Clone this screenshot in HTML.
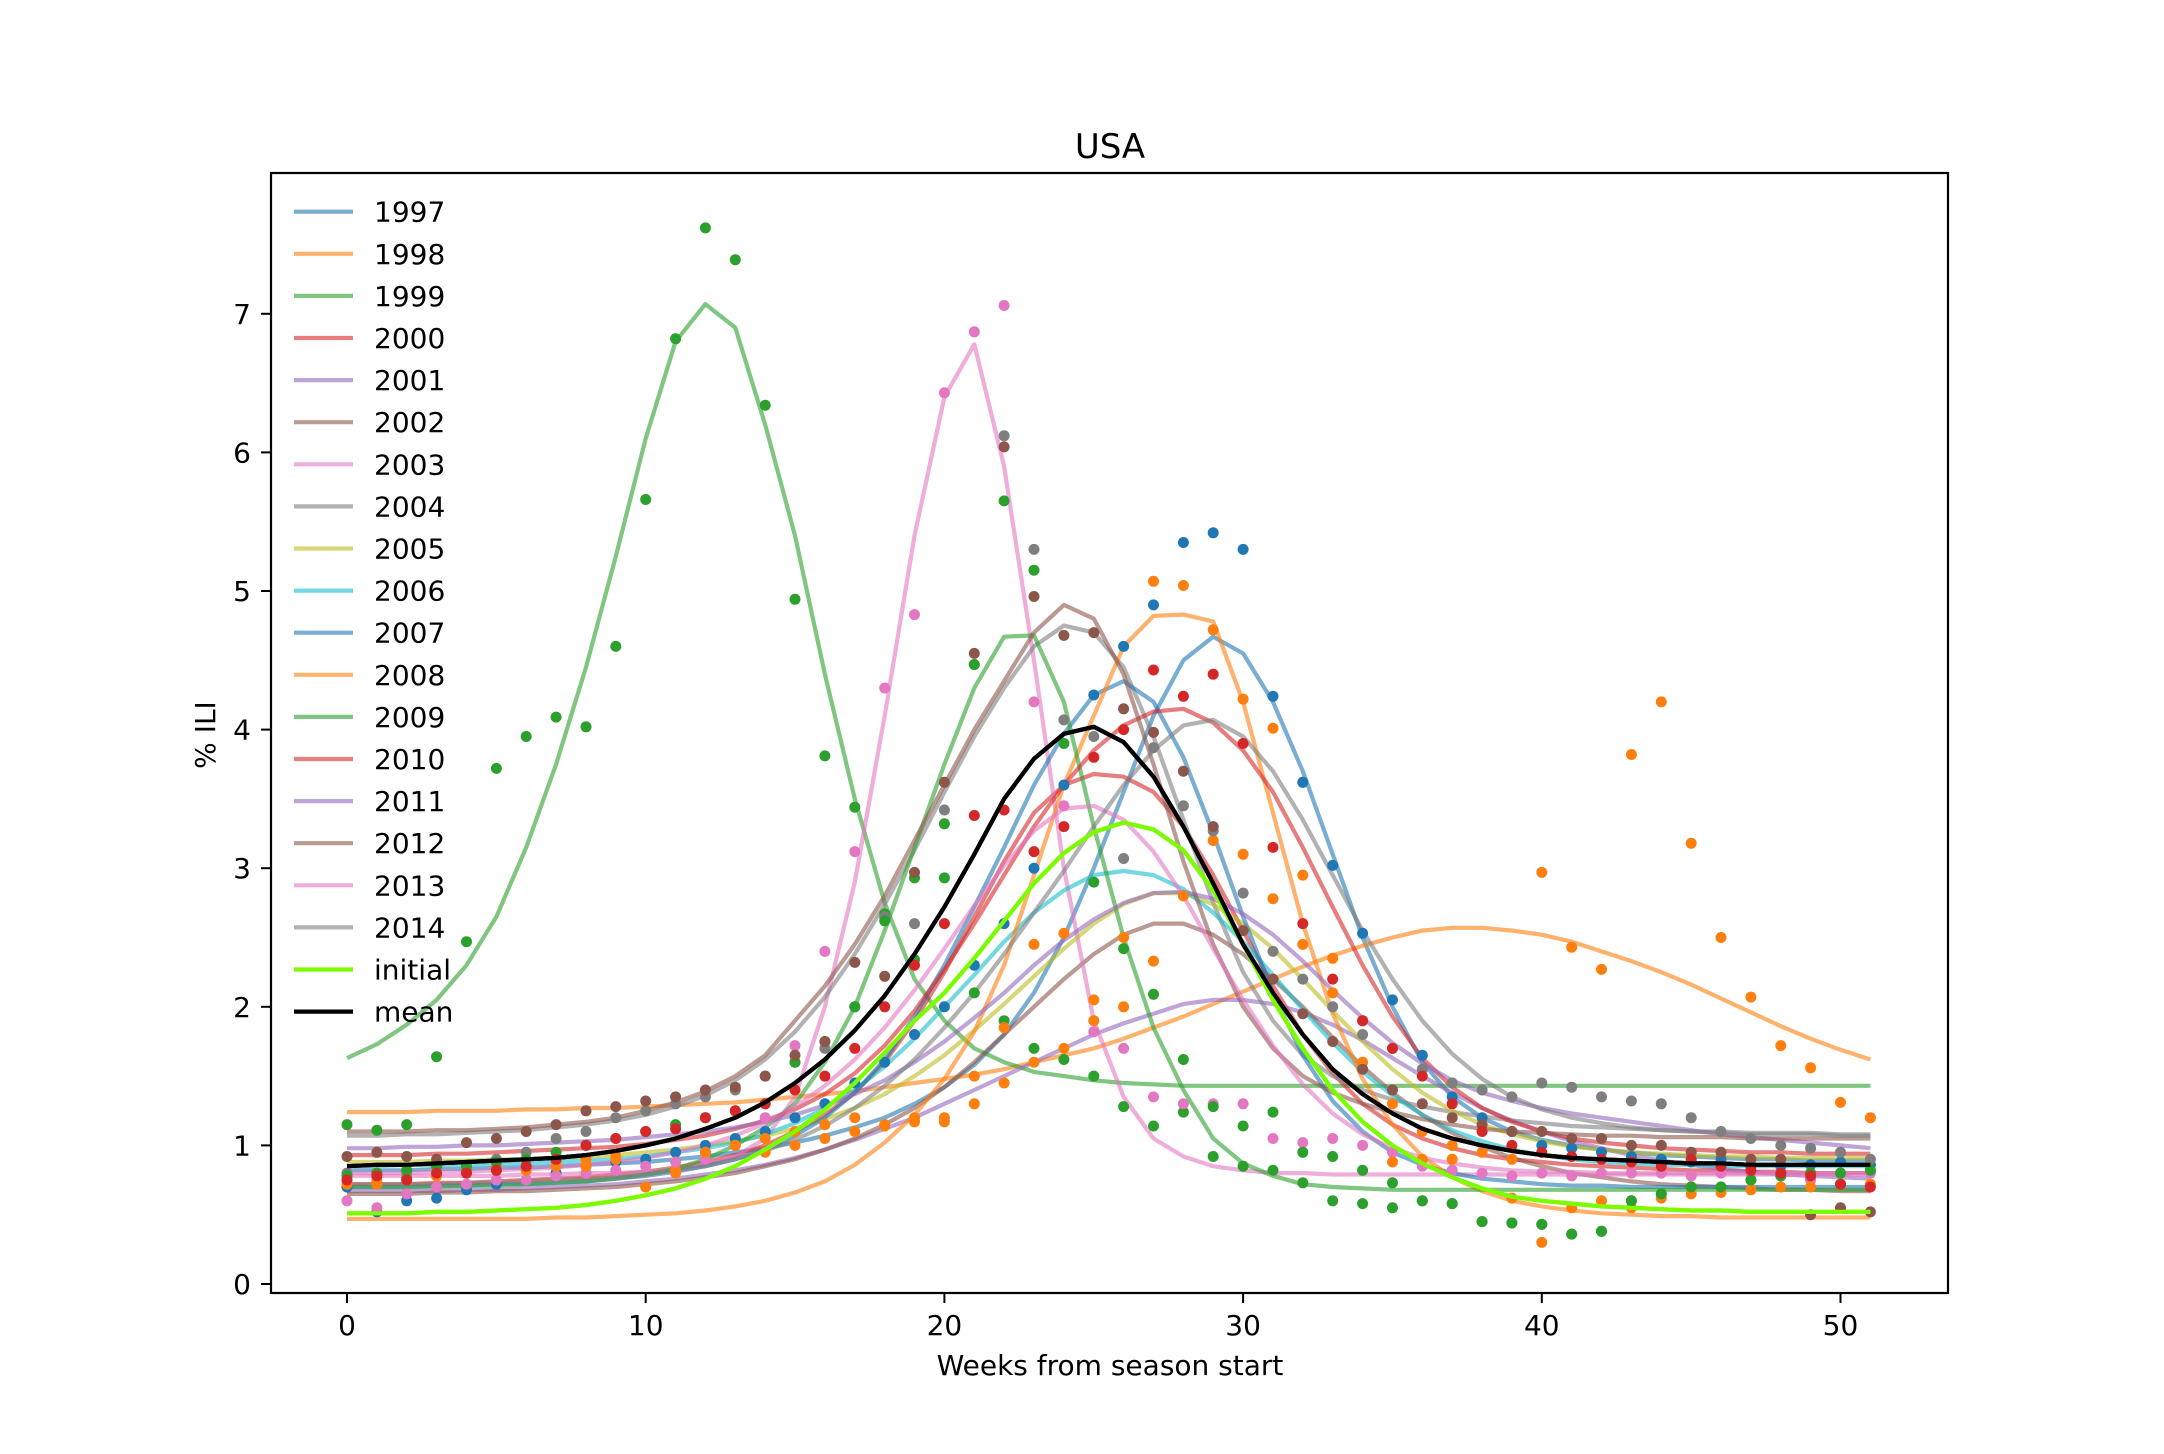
<!DOCTYPE html>
<html><head><meta charset="utf-8">
<style>
html,body{margin:0;padding:0;background:#fff;}
svg{display:block;}
text{font-family:"DejaVu Sans","Liberation Sans",sans-serif;fill:#000;}
</style></head>
<body>
<svg id="chart" width="2164" height="1454" viewBox="0 0 2164 1454" xmlns="http://www.w3.org/2000/svg">
<rect width="2164" height="1454" fill="#fff"/>
<text x="1110" y="158" font-size="34" text-anchor="middle">USA</text>
<text x="1110" y="1375" font-size="28" text-anchor="middle">Weeks from season start</text>
<text x="0" y="0" font-size="28" text-anchor="middle" transform="translate(215,735) rotate(-90)">% ILI</text>
<g id="plot"></g>
<g id="axes"></g>
<g id="legend"></g>
</svg>
<script>
const weeks = Array.from({length:52},(_,i)=>i);
const xTicks = [0,10,20,30,40,50];
const yTicks = [0,1,2,3,4,5,6,7];
const seriesNames = ["1997","1998","1999","2000","2001","2002","2003","2004","2005","2006","2007","2008","2009","2010","2011","2012","2013","2014","initial","mean"];
const seriesColors = ["#1f77b4","#ff7f0e","#2ca02c","#d62728","#9467bd","#8c564b","#e377c2","#7f7f7f","#bcbd22","#17becf","#1f77b4","#ff7f0e","#2ca02c","#d62728","#9467bd","#8c564b","#e377c2","#7f7f7f","#7cfc00","#000000"];

const s1997 = [0.82,0.82,0.82,0.83,0.83,0.84,0.84,0.85,0.86,0.87,0.88,0.9,0.92,0.95,0.98,1.02,1.07,1.13,1.2,1.3,1.42,1.58,1.8,2.1,2.5,3.0,3.55,4.1,4.5,4.67,4.55,4.2,3.7,3.1,2.5,2.0,1.6,1.35,1.2,1.1,1.04,1.0,0.97,0.95,0.93,0.92,0.91,0.9,0.9,0.89,0.89,0.89];
const s1998 = [1.24,1.24,1.24,1.25,1.25,1.25,1.26,1.26,1.27,1.27,1.28,1.29,1.3,1.31,1.33,1.35,1.37,1.39,1.42,1.45,1.48,1.51,1.55,1.6,1.65,1.7,1.77,1.85,1.93,2.02,2.11,2.2,2.29,2.37,2.44,2.5,2.55,2.57,2.57,2.55,2.52,2.47,2.4,2.33,2.25,2.16,2.06,1.96,1.86,1.77,1.69,1.62];
const s1999 = [1.63,1.73,1.87,2.05,2.3,2.65,3.15,3.75,4.45,5.25,6.1,6.8,7.07,6.9,6.2,5.4,4.4,3.5,2.75,2.2,1.9,1.7,1.6,1.53,1.5,1.47,1.45,1.44,1.43,1.43,1.43,1.43,1.43,1.43,1.43,1.43,1.43,1.43,1.43,1.43,1.43,1.43,1.43,1.43,1.43,1.43,1.43,1.43,1.43,1.43,1.43,1.43];
const s2000 = [0.72,0.72,0.72,0.73,0.73,0.74,0.75,0.76,0.77,0.79,0.81,0.84,0.88,0.93,1.0,1.1,1.22,1.38,1.6,1.9,2.25,2.65,3.05,3.4,3.6,3.68,3.66,3.55,3.3,2.95,2.55,2.15,1.8,1.52,1.3,1.15,1.05,0.98,0.93,0.9,0.88,0.86,0.85,0.84,0.83,0.82,0.82,0.81,0.81,0.8,0.8,0.8];
const s2001 = [0.67,0.67,0.67,0.67,0.68,0.68,0.69,0.7,0.71,0.72,0.74,0.76,0.79,0.82,0.86,0.91,0.97,1.04,1.12,1.2,1.3,1.4,1.5,1.6,1.7,1.8,1.88,1.95,2.02,2.05,2.05,2.02,1.96,1.87,1.76,1.63,1.5,1.38,1.27,1.18,1.1,1.03,0.98,0.93,0.89,0.86,0.83,0.81,0.79,0.78,0.77,0.76];
const s2002 = [0.65,0.65,0.65,0.66,0.66,0.67,0.67,0.68,0.69,0.7,0.72,0.74,0.77,0.8,0.85,0.9,0.97,1.05,1.15,1.27,1.42,1.6,1.8,2.0,2.2,2.38,2.52,2.6,2.6,2.52,2.38,2.2,2.0,1.78,1.57,1.38,1.22,1.09,0.99,0.91,0.85,0.8,0.77,0.74,0.72,0.71,0.7,0.69,0.68,0.68,0.67,0.67];
const s2003 = [0.78,0.78,0.78,0.78,0.78,0.78,0.79,0.79,0.8,0.8,0.81,0.83,0.86,0.92,1.05,1.35,2.0,2.9,4.1,5.4,6.4,6.78,5.9,4.5,3.0,1.9,1.35,1.05,0.92,0.85,0.82,0.8,0.8,0.79,0.79,0.79,0.79,0.79,0.79,0.79,0.79,0.79,0.79,0.79,0.79,0.79,0.79,0.79,0.79,0.79,0.79,0.79];
const s2004 = [1.07,1.07,1.08,1.08,1.09,1.1,1.11,1.13,1.15,1.18,1.22,1.28,1.36,1.47,1.62,1.82,2.07,2.38,2.74,3.13,3.55,3.95,4.3,4.6,4.75,4.7,4.45,3.95,3.35,2.75,2.25,1.9,1.65,1.5,1.4,1.33,1.28,1.24,1.21,1.18,1.16,1.14,1.13,1.12,1.11,1.1,1.1,1.09,1.09,1.09,1.08,1.08];
const s2005 = [0.88,0.88,0.88,0.89,0.89,0.9,0.9,0.91,0.92,0.93,0.95,0.97,1.0,1.03,1.07,1.12,1.19,1.27,1.37,1.5,1.65,1.83,2.02,2.22,2.42,2.6,2.74,2.82,2.82,2.74,2.6,2.42,2.2,1.97,1.75,1.55,1.38,1.25,1.15,1.08,1.03,0.99,0.97,0.95,0.94,0.93,0.92,0.92,0.91,0.91,0.91,0.91];
const s2006 = [0.85,0.85,0.86,0.86,0.86,0.87,0.87,0.88,0.89,0.9,0.92,0.95,0.98,1.02,1.08,1.16,1.27,1.4,1.57,1.77,2.0,2.23,2.47,2.68,2.84,2.95,2.98,2.95,2.85,2.68,2.47,2.23,1.98,1.74,1.53,1.36,1.22,1.11,1.03,0.97,0.93,0.9,0.88,0.87,0.86,0.86,0.85,0.85,0.85,0.85,0.85,0.85];
const s2007 = [0.7,0.7,0.7,0.71,0.71,0.72,0.72,0.73,0.74,0.76,0.78,0.81,0.85,0.9,0.97,1.07,1.2,1.38,1.62,1.93,2.3,2.72,3.15,3.6,3.97,4.25,4.35,4.2,3.8,3.25,2.65,2.1,1.65,1.32,1.1,0.95,0.86,0.8,0.76,0.74,0.72,0.71,0.71,0.7,0.7,0.7,0.7,0.7,0.7,0.7,0.7,0.7];
const s2008 = [0.47,0.47,0.47,0.47,0.47,0.47,0.47,0.48,0.48,0.49,0.5,0.51,0.53,0.56,0.6,0.66,0.74,0.86,1.02,1.22,1.48,1.82,2.3,2.95,3.6,4.1,4.6,4.82,4.83,4.78,4.2,3.4,2.6,1.95,1.48,1.15,0.92,0.77,0.67,0.6,0.56,0.53,0.51,0.5,0.49,0.49,0.48,0.48,0.48,0.48,0.48,0.48];
const s2009 = [0.7,0.7,0.7,0.7,0.71,0.71,0.72,0.73,0.74,0.76,0.79,0.83,0.9,1.0,1.13,1.3,1.6,2.0,2.55,3.15,3.75,4.3,4.67,4.68,4.2,3.3,2.5,1.85,1.4,1.05,0.87,0.78,0.72,0.7,0.69,0.68,0.68,0.68,0.68,0.68,0.68,0.68,0.68,0.68,0.68,0.68,0.68,0.68,0.68,0.68,0.68,0.68];
const s2010 = [0.93,0.93,0.93,0.94,0.94,0.95,0.96,0.97,0.98,0.99,1.01,1.04,1.07,1.12,1.18,1.26,1.37,1.52,1.72,1.97,2.27,2.6,2.95,3.3,3.6,3.85,4.03,4.13,4.15,4.05,3.85,3.55,3.15,2.72,2.3,1.93,1.63,1.42,1.27,1.17,1.1,1.05,1.02,1.0,0.98,0.97,0.96,0.95,0.95,0.94,0.94,0.94];
const s2011 = [0.98,0.98,0.99,0.99,1.0,1.0,1.01,1.02,1.03,1.04,1.06,1.08,1.1,1.13,1.17,1.22,1.29,1.37,1.47,1.6,1.75,1.92,2.1,2.3,2.48,2.63,2.75,2.82,2.83,2.78,2.67,2.52,2.33,2.12,1.92,1.74,1.59,1.47,1.38,1.32,1.27,1.23,1.2,1.17,1.14,1.11,1.08,1.06,1.04,1.02,1.0,0.98];
const s2012 = [1.1,1.1,1.1,1.11,1.11,1.12,1.13,1.15,1.17,1.2,1.25,1.31,1.39,1.5,1.65,1.9,2.15,2.45,2.8,3.2,3.6,4.0,4.35,4.7,4.9,4.8,4.4,3.75,3.05,2.45,2.0,1.7,1.5,1.38,1.3,1.24,1.19,1.15,1.12,1.1,1.09,1.08,1.07,1.07,1.06,1.06,1.06,1.05,1.05,1.05,1.05,1.05];
const s2013 = [0.8,0.8,0.8,0.81,0.81,0.82,0.83,0.84,0.86,0.88,0.91,0.95,1.0,1.07,1.16,1.28,1.43,1.62,1.85,2.12,2.42,2.73,3.02,3.27,3.43,3.45,3.35,3.12,2.8,2.42,2.05,1.72,1.44,1.23,1.08,0.98,0.91,0.87,0.84,0.82,0.81,0.81,0.8,0.8,0.8,0.8,0.8,0.8,0.8,0.8,0.8,0.8];
const s2014 = [0.72,0.72,0.72,0.72,0.73,0.73,0.74,0.75,0.76,0.77,0.79,0.82,0.85,0.9,0.96,1.04,1.14,1.27,1.43,1.62,1.85,2.1,2.38,2.68,2.98,3.3,3.6,3.85,4.03,4.07,3.95,3.7,3.35,2.95,2.55,2.2,1.9,1.66,1.48,1.35,1.26,1.2,1.16,1.13,1.11,1.1,1.09,1.08,1.08,1.08,1.07,1.07];
const sInitial = [0.51,0.51,0.51,0.52,0.52,0.53,0.54,0.55,0.57,0.6,0.64,0.69,0.76,0.85,0.97,1.1,1.26,1.45,1.67,1.9,2.1,2.35,2.62,2.89,3.11,3.26,3.33,3.28,3.13,2.84,2.45,2.05,1.7,1.4,1.17,1.0,0.87,0.77,0.69,0.63,0.6,0.58,0.56,0.55,0.54,0.53,0.53,0.52,0.52,0.52,0.52,0.52];
const sMean = [0.85,0.86,0.86,0.87,0.88,0.89,0.9,0.91,0.93,0.96,1.0,1.05,1.12,1.2,1.31,1.45,1.62,1.83,2.08,2.38,2.72,3.1,3.5,3.79,3.97,4.02,3.91,3.66,3.3,2.89,2.45,2.1,1.8,1.55,1.37,1.23,1.12,1.05,1.0,0.96,0.93,0.91,0.9,0.89,0.88,0.87,0.87,0.86,0.86,0.86,0.86,0.86];
const lineSeries = [s1997,s1998,s1999,s2000,s2001,s2002,s2003,s2004,s2005,s2006,s2007,s2008,s2009,s2010,s2011,s2012,s2013,s2014,sInitial,sMean];

// observed weekly points (dots)
const d1997 = [0.7,0.52,0.6,0.62,0.68,0.72,0.75,0.8,0.85,0.88,0.9,0.95,1.0,1.05,1.1,1.2,1.3,1.45,1.6,1.8,2.0,2.3,2.6,3.0,3.6,4.25,4.6,4.9,5.35,5.42,5.3,4.24,3.62,3.02,2.53,2.05,1.65,1.35,1.2,1.1,1.0,0.98,0.95,0.92,0.9,0.88,0.9,0.85,0.85,0.86,0.88,0.86];
const d1998 = [0.75,0.75,0.8,0.78,0.82,0.85,0.84,0.88,0.9,0.92,0.7,0.82,0.95,1.0,0.95,1.0,1.05,1.1,1.15,1.17,1.2,1.3,1.45,1.6,1.7,1.9,2.0,2.33,2.8,3.2,3.1,2.78,2.45,2.1,1.6,1.3,1.1,1.0,0.95,0.9,2.97,2.43,2.27,3.82,4.2,3.18,2.5,2.07,1.72,1.56,1.31,1.2];
const d1999 = [1.15,1.11,1.15,1.64,2.47,3.72,3.95,4.09,4.02,4.6,5.66,6.82,7.62,7.39,6.34,4.94,3.81,3.44,2.67,2.34,2.93,2.1,1.9,1.7,1.62,1.5,1.28,1.14,1.24,0.92,0.85,0.82,0.73,0.6,0.58,0.55,0.6,0.58,0.45,0.44,0.43,0.36,0.38,0.6,0.65,0.7,0.7,0.75,0.78,0.8,0.8,0.82];
const d2003 = [0.6,0.55,0.65,0.7,0.72,0.75,0.75,0.78,0.8,0.82,0.85,0.88,0.9,1.0,1.2,1.72,2.4,3.12,4.3,4.83,6.43,6.87,7.06,4.2,3.45,1.82,1.7,1.35,1.3,1.3,1.3,1.05,1.02,1.05,1.0,0.95,0.85,0.82,0.8,0.78,0.8,0.78,0.8,0.8,0.8,0.78,0.8,0.8,0.78,0.75,0.8,0.8];
const d2004 = [0.8,0.8,0.77,0.85,0.82,0.9,0.95,1.05,1.1,1.2,1.25,1.3,1.35,1.4,1.5,1.6,1.7,2.0,2.65,2.6,3.42,4.47,6.12,5.3,4.07,3.95,3.07,3.87,3.45,3.27,2.82,2.4,2.2,2.0,1.8,1.7,1.55,1.45,1.4,1.35,1.45,1.42,1.35,1.32,1.3,1.2,1.1,1.05,1.0,0.98,0.95,0.9];
const d2008 = [0.72,0.72,0.75,0.78,0.8,0.82,0.82,0.85,0.85,0.9,0.7,0.8,0.95,1.0,1.05,1.1,1.15,1.2,1.14,1.2,1.17,1.5,1.85,2.45,2.53,2.05,2.5,5.07,5.04,4.72,4.22,4.01,2.95,2.35,1.9,0.88,0.9,0.9,0.45,0.62,0.3,0.55,0.6,0.55,0.62,0.65,0.66,0.68,0.7,0.7,0.72,0.72];
const d2009 = [0.78,0.8,0.82,0.85,0.85,0.88,0.9,0.95,1.0,1.05,1.1,1.15,1.2,1.25,1.3,1.6,1.75,2.0,2.62,2.93,3.32,4.47,5.65,5.15,3.9,2.9,2.42,2.09,1.62,1.28,1.14,1.24,0.95,0.92,0.82,0.73,0.6,0.58,0.45,0.44,0.43,0.36,0.38,0.6,0.65,0.7,0.7,0.75,0.78,0.8,0.8,0.82];
const d2012 = [0.92,0.95,0.92,0.9,1.02,1.05,1.1,1.15,1.25,1.28,1.32,1.35,1.4,1.42,1.5,1.65,1.75,2.32,2.22,2.97,3.62,4.55,6.04,4.96,4.68,4.7,4.15,3.98,3.7,3.3,2.55,2.2,1.95,1.75,1.55,1.4,1.3,1.2,1.15,1.1,1.1,1.05,1.05,1.0,1.0,0.95,0.95,0.9,0.9,0.5,0.55,0.52];
const d2010 = [0.75,0.78,0.75,0.8,0.8,0.82,0.85,0.9,1.0,1.05,1.1,1.12,1.2,1.25,1.3,1.4,1.5,1.7,2.0,2.3,2.6,3.38,3.42,3.12,3.3,3.8,4.0,4.43,4.24,4.4,3.9,3.15,2.6,2.2,1.9,1.7,1.5,1.3,1.1,1.0,0.95,0.92,0.9,0.88,0.85,0.9,0.85,0.82,0.8,0.78,0.72,0.7];
const dotSeries = [d1997,d1998,d1999,d2003,d2004,d2008,d2009,d2012,d2010];
const dotSeriesIdx = [0,1,2,6,7,11,12,15,13];

const NS = "http://www.w3.org/2000/svg";
const X0 = 347, XW = 29.87, Y0 = 1284, YU = 138.6;
function xs(w){ return X0 + XW*w; }
function ys(v){ return Y0 - YU*v; }
function mk(tag, attrs, parent){
  const e = document.createElementNS(NS, tag);
  for (const k in attrs) e.setAttribute(k, attrs[k]);
  parent.appendChild(e);
  return e;
}
const plot = document.getElementById('plot');
const axes = document.getElementById('axes');
const legend = document.getElementById('legend');

lineSeries.forEach((vals, i) => {
  const d = vals.map((v, k) => (k ? 'L' : 'M') + xs(weeks[k]).toFixed(1) + ' ' + ys(v).toFixed(1)).join(' ');
  const isMain = i >= 18;
  const p = mk('path', {d: d, fill: 'none', stroke: seriesColors[i], 'stroke-width': 4.2, 'stroke-opacity': isMain ? 1 : 0.6, 'stroke-linejoin': 'round'}, plot);
  
  
});
dotSeries.forEach((vals, j) => {
  const g = mk('g', {fill: seriesColors[dotSeriesIdx[j]]}, plot);
  
  
  vals.forEach((v, k) => {
    const c = mk('circle', {cx: xs(weeks[k]).toFixed(1), cy: ys(v).toFixed(1), r: 5.5}, g);
    
    
  });
});
[18,19].forEach(i => {
  const vals = lineSeries[i];
  const d = vals.map((v, k) => (k ? 'L' : 'M') + xs(weeks[k]).toFixed(1) + ' ' + ys(v).toFixed(1)).join(' ');
  const p = mk('path', {d: d, fill: 'none', stroke: seriesColors[i], 'stroke-width': 4.2, 'stroke-linejoin': 'round'}, plot);
  
  
});

const frame = mk('rect', {x: 271, y: 173, width: 1677, height: 1120, fill: 'none', stroke: '#000', 'stroke-width': 2.2}, axes);


xTicks.forEach(t => {
  const x = xs(t);
  const l = mk('line', {x1: x, y1: 1293, x2: x, y2: 1303, stroke: '#000', 'stroke-width': 2}, axes);
  
  
  const tx = mk('text', {x: x, y: 1335, 'font-size': 28, 'text-anchor': 'middle'}, axes);
  tx.textContent = t;
  
  
});
yTicks.forEach(t => {
  const y = ys(t);
  const l = mk('line', {x1: 261, y1: y, x2: 271, y2: y, stroke: '#000', 'stroke-width': 2}, axes);
  
  
  const tx = mk('text', {x: 251, y: y + 10, 'font-size': 28, 'text-anchor': 'end'}, axes);
  tx.textContent = t;
  
  
});
seriesNames.forEach((n, i) => {
  const y = 211.7 + 42.1*i;
  const g = mk('g', {}, legend);
  
  
  mk('line', {x1: 294, y1: y, x2: 353, y2: y, stroke: seriesColors[i], 'stroke-width': 4.2, 'stroke-opacity': i >= 18 ? 1 : 0.6}, g);
  const tx = mk('text', {x: 374, y: y + 10, 'font-size': 28}, g);
  tx.textContent = n;
});
</script>
</body></html>
